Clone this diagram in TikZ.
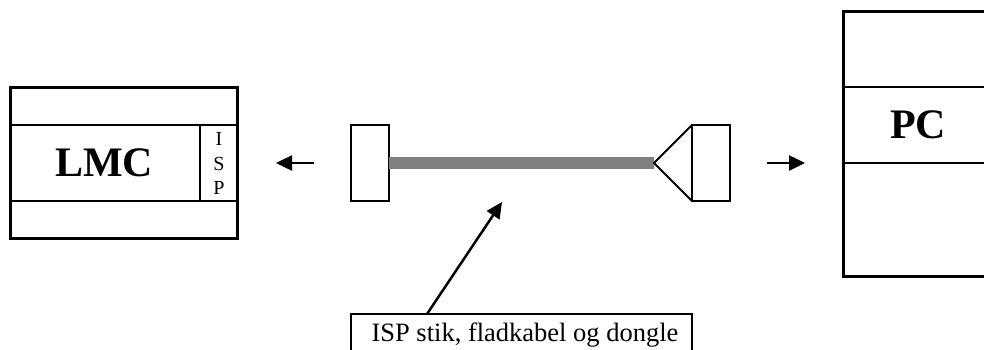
\documentclass[tikz,border=0pt]{standalone}
\usepackage{fontspec}
\setmainfont{Liberation Serif}
\usetikzlibrary{arrows.meta}
\tikzset{
  x=1pt,y=-1pt,
  outerbox/.style={draw,line width=3pt,inner sep=0pt,outer sep=0pt},
  thinbox/.style={draw,line width=2pt,inner sep=0pt,outer sep=0pt},
  divider/.style={line width=2pt},
  biglabel/.style={font=\fontsize{42}{42}\selectfont\bfseries,inner sep=0pt},
  isp/.style={font=\fontsize{20}{24}\selectfont,inner sep=0pt,align=center},
  cable/.style={line width=12pt,color=black!50},
  pointer/.style={line width=2.5pt,-{Triangle[length=16pt,width=15pt]},shorten >=0pt},
}
\begin{document}
\begin{tikzpicture}
\clip (0,0) rectangle (984,349);
\fill[white] (0,0) rectangle (984,349);
% LMC
\node[thinbox,minimum width=227pt,minimum height=76pt] (lmcmid) at (123.5,163) {};
\node[outerbox,minimum width=227pt,minimum height=151pt] (lmc) at (123.5,162.5) {};
\draw[divider] (199.5,125) -- (199.5,201);
\node[biglabel] (lmct) at (104,163) {LMC};
\node[isp] (i) at (219,139) {I};
\node[isp] (s) at (219,164) {S};
\node[isp] (p) at (219,188) {P};
% cable
\node[thinbox,minimum width=38pt,minimum height=76pt] (plugl) at (370,163) {};
\node[thinbox,minimum width=38pt,minimum height=76pt] (plugr) at (711,163) {};
\coordinate (tip) at (654,163);
\draw[cable] (plugl.east) -- (tip);
\draw[divider,line join=miter] (plugr.north west) -- (tip) -- (plugr.south west);
% direction arrows
\coordinate (la) at (314,163);
\coordinate (lb) at (276,163);
\coordinate (ra) at (767,163);
\coordinate (rb) at (805,163);
\draw[pointer] (la) -- (lb);
\draw[pointer] (ra) -- (rb);
% PC
\node[thinbox,minimum width=227pt,minimum height=76pt] (pcmid) at (956.5,125) {};
\node[outerbox,minimum width=227pt,minimum height=265pt] (pc) at (956.5,143.5) {};
\node[biglabel] (pct) at (918,125) {PC};
% label
\node[thinbox,minimum width=341pt,minimum height=70pt] (labelbox) at (521.5,349) {};
\node[font=\fontsize{26.5}{30}\selectfont,inner sep=0pt,anchor=base] (labeltext) at (525,341.5) {ISP stik, fladkabel og dongle};
\coordinate (target) at (502,202);
\coordinate (start) at (427,314);
\draw[pointer] (start) -- (target);
\end{tikzpicture}
\end{document}
